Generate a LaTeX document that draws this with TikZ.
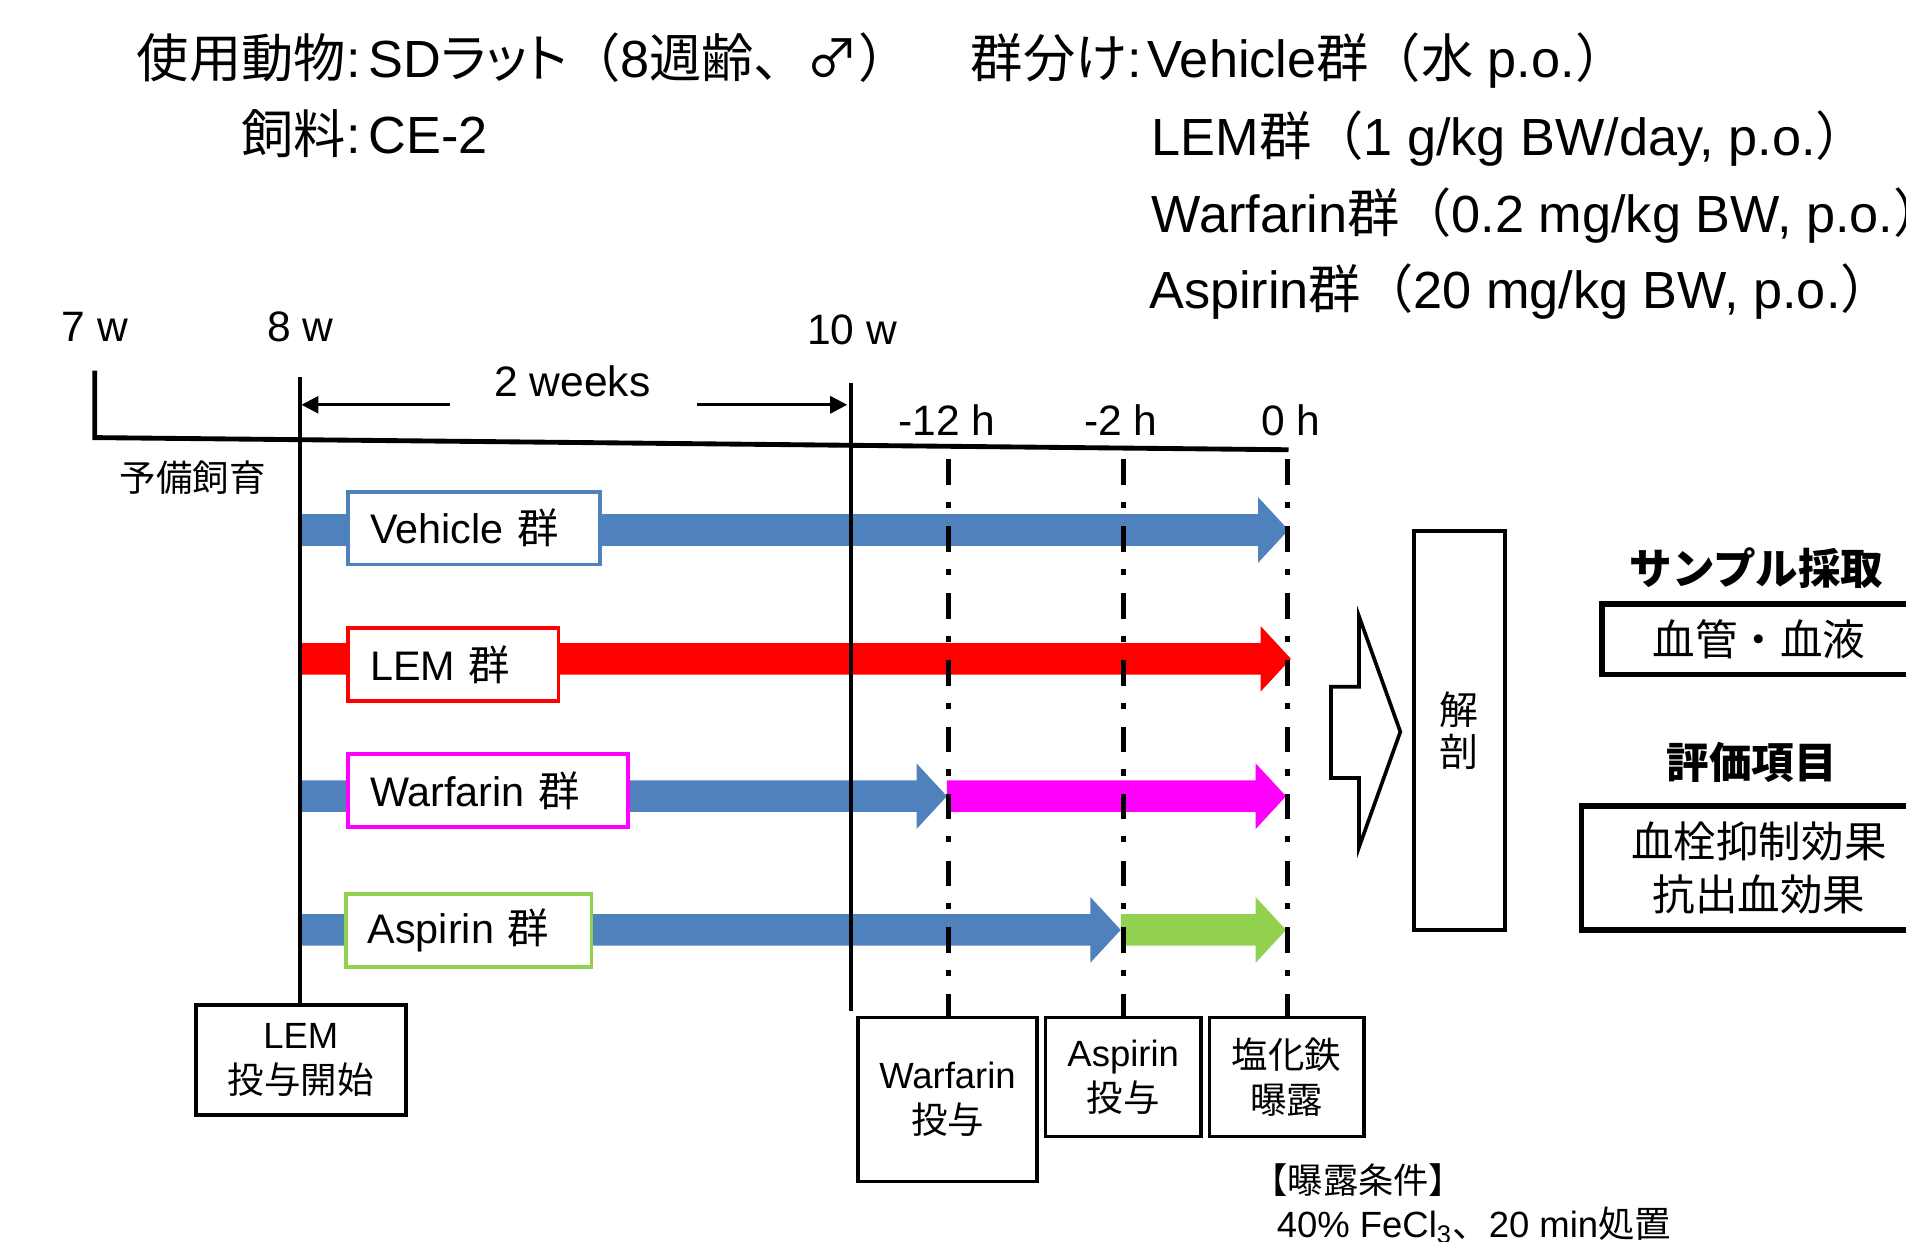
\documentclass[tikz,border=0pt]{standalone}
\usepackage{fontspec}
\setmainfont{Liberation Sans}
\newfontfamily\jp{Noto Sans CJK JP}
\newfontfamily\jpp[RawFeature=+palt]{Noto Sans CJK JP}
\usetikzlibrary{arrows.meta}
\definecolor{cblue}{HTML}{4F81BD}
\definecolor{cred}{HTML}{FF0000}
\definecolor{cmag}{HTML}{FF00FF}
\definecolor{cgreen}{HTML}{92D050}
\newcommand{\J}[1]{{\jp #1}}
\newcommand{\JP}[1]{{\jpp #1}}
\newcommand{\fs}[2]{\fontsize{#1}{#2}\selectfont}
\newcommand{\fatarrow}[5]{%
  \fill[#4] (#1,#3-13) -- (#2-25,#3-13) -- (#2-25,#3-27) -- (#2,#3) --
  (#2-25,#3+27) -- (#2-25,#3+13) -- (#1,#3+13) -- cycle;
  \coordinate (#5) at (#2,#3);}
\begin{document}
\begin{tikzpicture}[x=0.5pt,y=-0.5pt,
  every node/.style={inner sep=0pt},
  top/.style={font=\fs{21.5}{25}},
  tl/.style={font=\fs{17.5}{20}, anchor=base},
  glabel/.style={draw, fill=white, line width=1.5pt, inner xsep=9pt, inner ysep=0pt,
     minimum height=30pt, align=left, anchor=north west, font=\fs{17}{20}},
  bbox/.style={draw, line width=1.5pt, align=center, font=\fs{15}{18.5}},
  rbox/.style={draw, line width=2.2pt, align=center, font=\fs{17.5}{22}},
  head/.style={font=\fs{17.5}{20}\bfseries},
  vline/.style={line width=1.6pt},
  dline/.style={line width=2pt, dash pattern=on 10.5pt off 7pt on 2.5pt off 7.5pt},
  dimarrow/.style={line width=1.2pt, -{Triangle[length=7pt,width=7pt]}}]
\useasboundingbox (0,0) rectangle (1568,1021);

% header text
\node[top, anchor=base east] (h1) at (297,64) {\J{使用動物}:};
\node[top, anchor=base west] (v1) at (303,64) {SD\JP{ラット}\J{（}8\J{週齢、♂）}};
\node[top, anchor=base east] (h2) at (297,126) {\J{飼料}:};
\node[top, anchor=base west] (v2) at (303,126) {CE-2};
\node[top, anchor=base east] (g0) at (940,64) {\J{群分け}:};
\node[top, anchor=base west] (g1) at (944,64) {Vehicle\J{群（水} p.o.\J{）}};
\node[top, anchor=base west] (g2) at (947,128) {LEM\J{群（}1 g/kg BW/day, p.o.\J{）}};
\node[top, anchor=base west] (g3) at (947,191) {Warfarin\J{群（}0.2 mg/kg BW, p.o.\J{）}};
\node[top, anchor=base west] (g4) at (945,254) {Aspirin\J{群（}20 mg/kg BW, p.o.\J{）}};

% timeline labels
\node[tl] (w7) at (78,281) {7 w};
\node[tl] (w8) at (247,281) {8 w};
\node[tl] (w10) at (701,283) {10 w};
\node[tl] (wk) at (471,326) {2 weeks};
\node[tl] (m12) at (779,358) {-12 h};
\node[tl] (m2) at (922,358) {-2 h};
\node[tl] (m0) at (1062,358) {0 h};
\node[anchor=west, font=\fs{15}{18}] (yobi) at (98,393) {\J{予備飼育}};

% coordinates
\coordinate (t7top) at (78,305);
\coordinate (t7) at (78,360);
\coordinate (tend) at (1060,370);
\coordinate (t8top) at (247,310);
\coordinate (t8bot) at (247,827);
\coordinate (t10top) at (700,315);
\coordinate (t10bot) at (700,832);
\coordinate (dl) at (370,333);
\coordinate (dlt) at (248,333);
\coordinate (dr) at (573,333);
\coordinate (drt) at (697,333);
\coordinate (d12t) at (780,378);
\coordinate (d12b) at (780,837);
\coordinate (d2t) at (924,378);
\coordinate (d2b) at (924,837);
\coordinate (d0t) at (1059,378);
\coordinate (d0b) at (1059,837);

% fat arrows
\fatarrow{247}{1060}{436}{cblue}{vehtip}
\fatarrow{247}{1062}{542}{cred}{lemtip}
\fatarrow{247}{779}{655}{cblue}{wb}
\fatarrow{779}{1058}{655}{cmag}{wtip}
\fatarrow{247}{922}{765}{cblue}{ab}
\fatarrow{922}{1058}{765}{cgreen}{atip}

% group labels
\node[glabel, draw=cblue, text width=85.5pt] (lveh) at (285,403) {Vehicle \J{群}};
\node[glabel, draw=cred, text width=68.5pt] (llem) at (285,515) {LEM \J{群}};
\node[glabel, draw=cmag, text width=97pt] (lwar) at (285,619) {Warfarin \J{群}};
\node[glabel, draw=cgreen, text width=83pt] (lasp) at (283,734) {Aspirin \J{群}};

% timeline lines
\draw[line width=2pt] (t7top) -- (t7) -- (tend);
\draw[vline] (t8top) -- (t8bot);
\draw[vline] (t10top) -- (t10bot);
\draw[dimarrow] (dl) -- (dlt);
\draw[dimarrow] (dr) -- (drt);
\draw[dline] (d12t) -- (d12b);
\draw[dline] (d2t) -- (d2b);
\draw[dline] (d0t) -- (d0b);

% bottom boxes
\node[bbox, minimum width=86.5pt, minimum height=45pt] (blem) at (247.5,872) {LEM\\\J{投与開始}};
\node[bbox, minimum width=73.5pt, minimum height=67.5pt] (bwar) at (779.5,904.5) {Warfarin\\\J{投与}};
\node[bbox, minimum width=64pt, minimum height=49pt] (basp) at (924,886) {Aspirin\\\J{投与}};
\node[bbox, minimum width=63.5pt, minimum height=49pt] (bfe) at (1058.5,886) {\J{塩化鉄}\\\J{曝露}};
\node[anchor=west, font=\fs{14.5}{18}] (cond) at (1030,971) {\J{【曝露条件】}};
\node[anchor=west, font=\fs{15}{18}] (cond2) at (1050,1008) {40\% FeCl\textsubscript{3}\J{、}20 min\J{処置}};

% hollow block arrow
\draw[line width=1.5pt, fill=white] (1095,565) -- (1118,565) -- (1118,507) -- (1152,602)
  -- (1118,697) -- (1118,640) -- (1095,640) -- cycle;
\node[bbox, minimum width=37.5pt, minimum height=164pt, font=\fs{16}{17.5}] (kaibo) at (1200.5,601) {\J{解}\\\J{剖}};

% right side
\node[head] (samp) at (1445,467) {\J{サンプル採取}};
\node[rbox, minimum width=129pt, minimum height=29pt] (bsamp) at (1447,526) {\J{血管・血液}};
\node[head] (hyo) at (1441,627) {\J{評価項目}};
\node[rbox, minimum width=146pt, minimum height=51pt] (bhyo) at (1447,714) {\J{血栓抑制効果}\\\J{抗出血効果}};
\end{tikzpicture}
\end{document}
